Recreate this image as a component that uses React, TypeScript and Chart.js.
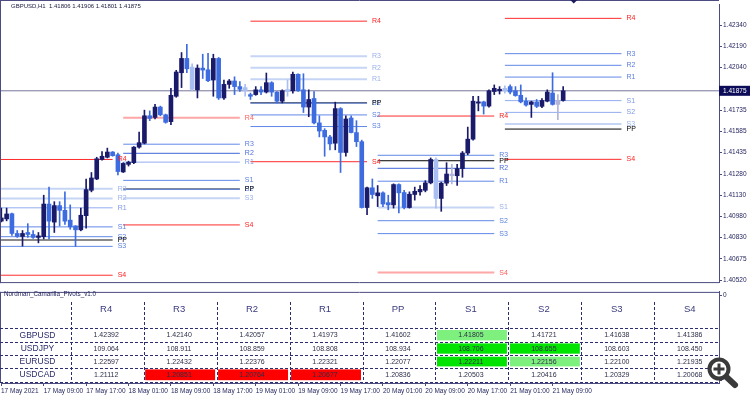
import React, { useEffect, useRef } from 'react';
import { Chart, registerables } from 'chart.js';
Chart.register(...registerables);

const symbolName = 'GBPUSD';
const timeframe = 'H1';

const opens = [
  1.40945, 1.40961, 1.40998, 1.40857, 1.40836, 1.40864, 1.40850, 1.40829, 1.40834, 1.41067,
  1.40938, 1.41056, 1.41022, 1.40952, 1.40911, 1.40883, 1.40984, 1.41165, 1.41246, 1.41385,
  1.41401, 1.41438, 1.41419, 1.41296, 1.41350, 1.41362, 1.41473, 1.41501, 1.41697, 1.41685,
  1.41759, 1.41704, 1.41655, 1.41836, 1.42004, 1.42106, 1.42044, 1.41882, 1.42037, 1.42025,
  1.41952, 1.42106, 1.41824, 1.41921, 1.41945, 1.41905, 1.41898, 1.41848, 1.41848, 1.41882,
  1.41866, 1.41933, 1.41866, 1.41801, 1.41884, 1.41875, 1.41993, 1.41882, 1.41759, 1.41820,
  1.41646, 1.41593, 1.41546, 1.41501, 1.41748, 1.41435, 1.41681, 1.41577, 1.41512, 1.41042,
  1.41183, 1.41126, 1.41147, 1.41077, 1.41061, 1.41206, 1.41149, 1.41042, 1.41135, 1.41154,
  1.41165, 1.41218, 1.41385, 1.41107, 1.41216, 1.41269, 1.41269, 1.41320, 1.41431, 1.41530,
  1.41787, 1.41796, 1.41766, 1.41870, 1.41875, 1.41893, 1.41905, 1.41875, 1.41843, 1.41801,
  1.41778, 1.41796, 1.41764, 1.41801, 1.41859, 1.41778, 1.41806,
];
const highs = [
  1.41038, 1.41038, 1.41003, 1.40878, 1.40878, 1.40927, 1.40878, 1.40864, 1.41130, 1.41188,
  1.41084, 1.41084, 1.41154, 1.41061, 1.40913, 1.41038, 1.41246, 1.41292, 1.41401, 1.41442,
  1.41466, 1.41442, 1.41431, 1.41362, 1.41373, 1.41477, 1.41581, 1.41737, 1.41732, 1.41778,
  1.41766, 1.41709, 1.41893, 1.42021, 1.42148, 1.42206, 1.42067, 1.42060, 1.42136, 1.42143,
  1.42136, 1.42113, 1.41952, 1.41956, 1.41975, 1.41940, 1.41921, 1.41859, 1.41905, 1.41905,
  1.42002, 1.41940, 1.41870, 1.41882, 1.41952, 1.42009, 1.41997, 1.41997, 1.41882, 1.41870,
  1.41697, 1.41605, 1.41558, 1.41794, 1.41755, 1.41697, 1.41697, 1.41662, 1.41523, 1.41188,
  1.41246, 1.41199, 1.41154, 1.41130, 1.41211, 1.41211, 1.41165, 1.41154, 1.41188, 1.41199,
  1.41234, 1.41396, 1.41396, 1.41223, 1.41362, 1.41350, 1.41350, 1.41442, 1.41616, 1.41836,
  1.41836, 1.41801, 1.41882, 1.41917, 1.41905, 1.41910, 1.41917, 1.41905, 1.41917, 1.41824,
  1.41801, 1.41813, 1.41820, 1.41882, 1.42004, 1.41848, 1.41906,
];
const lows = [
  1.40940, 1.40947, 1.40843, 1.40829, 1.40767, 1.40829, 1.40822, 1.40790, 1.40818, 1.40818,
  1.40864, 1.40911, 1.40922, 1.40887, 1.40765, 1.40876, 1.40894, 1.41154, 1.41241, 1.41380,
  1.41396, 1.41408, 1.41274, 1.41292, 1.41338, 1.41355, 1.41466, 1.41496, 1.41662, 1.41674,
  1.41697, 1.41644, 1.41634, 1.41829, 1.41898, 1.42004, 1.41875, 1.41824, 1.41963, 1.41940,
  1.41836, 1.41813, 1.41813, 1.41893, 1.41848, 1.41870, 1.41836, 1.41813, 1.41843, 1.41848,
  1.41859, 1.41836, 1.41789, 1.41789, 1.41836, 1.41859, 1.41870, 1.41720, 1.41690, 1.41639,
  1.41546, 1.41408, 1.41454, 1.41454, 1.41292, 1.41408, 1.41574, 1.41477, 1.41038, 1.40991,
  1.41107, 1.41049, 1.41049, 1.41026, 1.41038, 1.41003, 1.41033, 1.41038, 1.41095, 1.41130,
  1.41154, 1.41211, 1.41038, 1.41015, 1.41199, 1.41211, 1.41199, 1.41258, 1.41419, 1.41523,
  1.41732, 1.41709, 1.41759, 1.41848, 1.41852, 1.41859, 1.41852, 1.41836, 1.41789, 1.41766,
  1.41685, 1.41755, 1.41755, 1.41796, 1.41773, 1.41669, 1.41801,
];
const closes = [
  1.40968, 1.40996, 1.40857, 1.40836, 1.40857, 1.40850, 1.40829, 1.40840, 1.41067, 1.40945,
  1.41056, 1.41022, 1.40945, 1.40904, 1.40883, 1.40987, 1.41170, 1.41253, 1.41390, 1.41408,
  1.41438, 1.41412, 1.41299, 1.41357, 1.41366, 1.41473, 1.41505, 1.41697, 1.41678, 1.41759,
  1.41704, 1.41650, 1.41843, 1.42009, 1.42106, 1.42032, 1.41886, 1.42037, 1.42023, 1.41947,
  1.42106, 1.41824, 1.41921, 1.41945, 1.41905, 1.41886, 1.41875, 1.41836, 1.41882, 1.41866,
  1.41933, 1.41866, 1.41801, 1.41875, 1.41870, 1.41993, 1.41875, 1.41759, 1.41813, 1.41646,
  1.41588, 1.41546, 1.41496, 1.41748, 1.41435, 1.41674, 1.41577, 1.41512, 1.41042, 1.41183,
  1.41135, 1.41147, 1.41067, 1.41061, 1.41206, 1.41147, 1.41042, 1.41137, 1.41158, 1.41172,
  1.41218, 1.41385, 1.41107, 1.41216, 1.41281, 1.41281, 1.41320, 1.41431, 1.41530, 1.41801,
  1.41796, 1.41766, 1.41875, 1.41893, 1.41886, 1.41875, 1.41866, 1.41841, 1.41796, 1.41773,
  1.41796, 1.41764, 1.41806, 1.41866, 1.41778, 1.41806, 1.41875,
];
const fadedBars = [36, 46, 54, 82, 85, 95, 105];

const levelNames = ['R4', 'R3', 'R2', 'R1', 'PP', 'S1', 'S2', 'S3', 'S4'];
const pivotDayStarts = [-1, 23, 47, 71, 95];
const pivotSpan = 22;
const pivotsDay1 = [1.41385, 1.41176, 1.41107, 1.41040, 1.40811, 1.40904, 1.40834, 1.40765, 1.40559];
const pivotsDay2 = [1.41683, 1.41494, 1.41429, 1.41366, 1.41174, 1.41236, 1.41172, 1.41108, 1.40918];
const pivotsDay3 = [1.42372, 1.42122, 1.42040, 1.41957, 1.41789, 1.41787, 1.41703, 1.41620, 1.41369];
const pivotsDay4 = [1.41695, 1.41415, 1.41322, 1.41230, 1.41376, 1.41042, 1.40948, 1.40856, 1.40578];
const pivotsDay5 = [1.42392, 1.42140, 1.42057, 1.41973, 1.41602, 1.41805, 1.41721, 1.41638, 1.41386];
const pivotLevels = [pivotsDay1, pivotsDay2, pivotsDay3, pivotsDay4, pivotsDay5];

const stylesDay1 = ['red', 'pale', 'pale', 'lblue', 'gray', 'blue', 'blue', 'blue', 'red'];
const stylesDay2 = ['pink', 'blue', 'dblue', 'lblue', 'black', 'blue', 'blue', 'pale', 'red'];
const stylesDay3 = ['red', 'pale', 'pale', 'pale', 'black', 'blue', 'blue', 'blue', 'red'];
const stylesDay4 = ['red', 'blue', 'dblue', 'blue', 'black', 'pale', 'blue', 'blue', 'pink'];
const stylesDay5 = ['red', 'blue', 'blue', 'blue', 'black', 'lblue', 'lblue', 'pale', 'red'];
const pivotStyles = [stylesDay1, stylesDay2, stylesDay3, stylesDay4, stylesDay5];

const currentPrice = 1.41875;
const shiftMarkerBar = 108;
const priceTicks = [1.4234, 1.4219, 1.4204, 1.41735, 1.41585, 1.41435, 1.4128, 1.4113, 1.4098, 1.4083, 1.40675, 1.4052];
const timeTickBars = [-0.06, 8, 16, 24, 32, 40, 48, 56, 64, 72, 80, 88, 96, 104];
const timeTickLabels = [
  '17 May 2021', '17 May 09:00', '17 May 17:00', '18 May 01:00', '18 May 09:00', '18 May 17:00',
  '19 May 01:00', '19 May 09:00', '19 May 17:00', '20 May 01:00', '20 May 09:00', '20 May 17:00',
  '21 May 01:00', '21 May 09:00',
];

const indicatorName = 'Nordman_Camarilla_Pivots_v1.0';
const tableSymbols = ['GBPUSD', 'USDJPY', 'EURUSD', 'USDCAD'];
const tableDigits = [5, 3, 5, 5];
const rowGBPUSD = [1.42392, 1.42140, 1.42057, 1.41973, 1.41602, 1.41805, 1.41721, 1.41638, 1.41386];
const rowUSDJPY = [109.064, 108.911, 108.859, 108.808, 108.934, 108.706, 108.655, 108.603, 108.450];
const rowEURUSD = [1.22597, 1.22432, 1.22376, 1.22321, 1.22077, 1.22211, 1.22156, 1.22100, 1.21935];
const rowUSDCAD = [1.21112, 1.20851, 1.20764, 1.20677, 1.20836, 1.20503, 1.20416, 1.20329, 1.20068];
const tableRows = [rowGBPUSD, rowUSDJPY, rowEURUSD, rowUSDCAD];
const hlGBPUSD = ['', '', '', '', '', 'lightgreen', '', '', ''];
const hlUSDJPY = ['', '', '', '', '', 'green', 'green', '', ''];
const hlEURUSD = ['', '', '', '', '', 'green', 'lightgreen', '', ''];
const hlUSDCAD = ['', 'red', 'red', 'red', '', '', '', '', ''];
const tableHighlights = [hlGBPUSD, hlUSDJPY, hlEURUSD, hlUSDCAD];

const FONT = '"Liberation Sans", Arial, sans-serif';
const lineStyles: Record<string, { color: string; width: number; text: string }> = {
  red: { color: '#ff2b2b', width: 1, text: '#ff2020' },
  pink: { color: '#ffa6a6', width: 2, text: '#ff5a5a' },
  blue: { color: '#6088e8', width: 1, text: '#5b7fe0' },
  dblue: { color: '#3f66d8', width: 1, text: '#4a6edc' },
  lblue: { color: '#92acf0', width: 1, text: '#7e98e6' },
  pale: { color: '#c6d5f6', width: 2, text: '#9cb1ea' },
  black: { color: '#000000', width: 1, text: '#000000' },
  gray: { color: '#8a8a8a', width: 2, text: '#000000' },
};
const highlightColors: Record<string, string> = { red: '#ff0000', green: '#00e400', lightgreen: '#7ef07e' };
const AXIS = '#4c4c80';
const TEXT = '#262660';
const X_MIN = -0.06;
const X_MAX = 135.4;
const drawOrder = [0, 1, 2, 3, 5, 6, 7, 8, 4];

function candleColor(i: number) {
  const up = closes[i] >= opens[i];
  if (fadedBars.includes(i)) return up ? '#b3b3da' : '#a9bff2';
  return up ? '#1a1a6b' : '#3d6ce0';
}

const mainOverlay = {
  id: 'mainOverlay',
  afterDatasetsDraw(chart: any) {
    const { ctx, scales } = chart;
    const x = scales.x, y = scales.y;
    ctx.save();
    ctx.beginPath();
    ctx.font = `7px ${FONT}`;
    ctx.textBaseline = 'middle';
    ctx.textAlign = 'left';
    pivotLevels.forEach((levels, d) => {
      const px = x.getPixelForValue(pivotDayStarts[d] + pivotSpan) + 5;
      drawOrder.forEach((k) => {
        ctx.fillStyle = lineStyles[pivotStyles[d][k]].text;
        ctx.fillText(levelNames[k], px, y.getPixelForValue(levels[k]));
      });
    });
    ctx.restore();
  },
  afterDraw(chart: any) {
    const { ctx, chartArea, scales } = chart;
    const x = scales.x, y = scales.y;
    ctx.save();
    ctx.strokeStyle = AXIS;
    ctx.lineWidth = 1;
    ctx.beginPath();
    ctx.moveTo(0.5, 0);
    ctx.lineTo(0.5, chartArea.bottom + 1);
    ctx.moveTo(0, 0.5);
    ctx.lineTo(chartArea.right, 0.5);
    ctx.moveTo(0, chartArea.bottom + 0.5);
    ctx.lineTo(chartArea.right, chartArea.bottom + 0.5);
    ctx.stroke();
    const n = opens.length - 1;
    ctx.font = `6px ${FONT}`;
    ctx.fillStyle = '#1a1a40';
    ctx.textBaseline = 'middle';
    ctx.textAlign = 'left';
    ctx.fillText(
      `${symbolName},${timeframe}  ${opens[n].toFixed(5)} ${highs[n].toFixed(5)} ${lows[n].toFixed(5)} ${closes[n].toFixed(5)}`,
      11, 6
    );
    const py = y.getPixelForValue(currentPrice);
    ctx.fillStyle = '#0c0c58';
    ctx.fillRect(chartArea.right, py - 5, 31, 10);
    ctx.fillStyle = '#ffffff';
    ctx.font = `6.5px ${FONT}`;
    ctx.fillText(currentPrice.toFixed(5), chartArea.right + 4, py + 0.5);
    const mx = x.getPixelForValue(shiftMarkerBar);
    ctx.fillStyle = '#1b1b5e';
    ctx.beginPath();
    ctx.moveTo(mx - 3.5, 0);
    ctx.lineTo(mx + 3.5, 0);
    ctx.lineTo(mx, 3.5);
    ctx.closePath();
    ctx.fill();
    ctx.restore();
  },
};

const subOverlay = {
  id: 'subOverlay',
  afterDraw(chart: any) {
    const { ctx, chartArea } = chart;
    ctx.save();
    ctx.strokeStyle = AXIS;
    ctx.lineWidth = 1;
    ctx.beginPath();
    ctx.moveTo(0.5, chartArea.top);
    ctx.lineTo(0.5, chartArea.bottom);
    ctx.moveTo(0, chartArea.top + 0.5);
    ctx.lineTo(chartArea.right, chartArea.top + 0.5);
    ctx.stroke();

    ctx.font = `6.3px ${FONT}`;
    ctx.fillStyle = TEXT;
    ctx.textAlign = 'left';
    ctx.textBaseline = 'middle';
    ctx.fillText(indicatorName, 4, 7.5);

    const colStart = 70.7;
    const colW = 72.95;
    const rowLines = [41.3, 54.7, 68, 80.7, 94.5];
    const right = chartArea.right - 1;

    tableHighlights.forEach((row, r) => {
      row.forEach((h, c) => {
        if (!h) return;
        ctx.fillStyle = highlightColors[h];
        const x0 = colStart + c * colW + 1.5;
        ctx.fillRect(x0, rowLines[r] + 1.7, colW - 3, rowLines[r + 1] - rowLines[r] - 3);
      });
    });

    ctx.strokeStyle = '#2c2c70';
    ctx.setLineDash([3, 2]);
    ctx.beginPath();
    rowLines.forEach((ly) => {
      ctx.moveTo(0, Math.round(ly) + 0.5);
      ctx.lineTo(right, Math.round(ly) + 0.5);
    });
    for (let c = 0; c < 9; c++) {
      const lx = Math.round(colStart + c * colW) + 0.5;
      ctx.moveTo(lx, 15);
      ctx.lineTo(lx, 95);
    }
    ctx.stroke();
    ctx.setLineDash([]);

    ctx.textAlign = 'center';
    ctx.fillStyle = '#3a3a7e';
    ctx.font = `9.5px ${FONT}`;
    levelNames.forEach((name, c) => {
      ctx.fillText(name, colStart + c * colW + colW / 2 - 1, 22.5);
    });
    tableSymbols.forEach((sym, r) => {
      const cy = (rowLines[r] + rowLines[r + 1]) / 2 + 0.3;
      ctx.font = `8.5px ${FONT}`;
      ctx.fillStyle = '#2b2b6b';
      ctx.fillText(sym, 37.5, cy);
      ctx.font = `7px ${FONT}`;
      ctx.fillStyle = '#2e2e48';
      tableRows[r].forEach((v, c) => {
        ctx.fillText(v.toFixed(tableDigits[r]), colStart + c * colW + colW / 2 - 1, cy);
      });
    });

    ctx.strokeStyle = '#3a3a3a';
    ctx.fillStyle = '#ffffff';
    ctx.lineWidth = 4;
    ctx.beginPath();
    ctx.arc(719, 82, 9.5, 0, Math.PI * 2);
    ctx.fill();
    ctx.stroke();
    ctx.lineWidth = 6;
    ctx.lineCap = 'round';
    ctx.beginPath();
    ctx.moveTo(727, 90.5);
    ctx.lineTo(735, 98);
    ctx.stroke();
    ctx.lineWidth = 3;
    ctx.lineCap = 'butt';
    ctx.beginPath();
    ctx.moveTo(713.5, 82);
    ctx.lineTo(724.5, 82);
    ctx.moveTo(719, 76.5);
    ctx.lineTo(719, 87.5);
    ctx.stroke();
    ctx.restore();
  },
};

export default function App() {
  const refA = useRef<HTMLCanvasElement>(null);
  const refB = useRef<HTMLCanvasElement>(null);

  useEffect(() => {
    Chart.defaults.font.family = FONT;
    const idx = opens.map((_, i) => i);
    const colors = idx.map(candleColor);

    const pivotDatasets: any[] = [];
    pivotLevels.forEach((levels, d) => {
      const start = pivotDayStarts[d];
      const end = start + pivotSpan;
      drawOrder.forEach((k) => {
        const st = lineStyles[pivotStyles[d][k]];
        pivotDatasets.push({
          type: 'line',
          data: [{ x: start, y: levels[k] }, { x: end, y: levels[k] }],
          borderColor: st.color,
          backgroundColor: st.color,
          borderWidth: st.width,
          pointRadius: 0,
          fill: false,
          order: 3,
        });
      });
    });

    const chartA = new Chart(refA.current as HTMLCanvasElement, {
      type: 'bar',
      data: {
        datasets: [
          ...pivotDatasets,
          {
            type: 'line',
            data: [{ x: X_MIN, y: currentPrice }, { x: X_MAX, y: currentPrice }],
            borderColor: '#77779c',
            borderWidth: 1,
            pointRadius: 0,
            fill: false,
            order: 2,
          },
          {
            type: 'bar',
            data: idx.map((i) => ({ x: i, y: [lows[i], highs[i]] })),
            backgroundColor: colors,
            barThickness: 1,
            grouped: false,
            borderWidth: 0,
            order: 1,
          },
          {
            type: 'bar',
            data: idx.map((i) => ({ x: i, y: [opens[i], closes[i]] })),
            backgroundColor: colors,
            barThickness: 4,
            minBarLength: 1,
            grouped: false,
            borderWidth: 0,
            order: 0,
          },
        ] as any,
      },
      options: {
        responsive: false,
        animation: false,
        events: [],
        layout: { padding: { left: 1, top: 1, right: 0, bottom: 1 }, autoPadding: false } as any,
        plugins: { legend: { display: false }, tooltip: { enabled: false } },
        scales: {
          x: { type: 'linear', min: X_MIN, max: X_MAX, display: false, offset: false },
          y: {
            type: 'linear',
            position: 'right',
            min: 1.4051,
            max: 1.42488,
            beginAtZero: false,
            afterBuildTicks: (s: any) => {
              s.ticks = priceTicks.map((v) => ({ value: v }));
            },
            afterFit: (s: any) => {
              s.width = 31;
            },
            ticks: {
              autoSkip: false,
              padding: 1,
              color: TEXT,
              font: { size: 6.5, family: FONT },
              callback: (v: any) => Number(v).toFixed(5),
            },
            grid: { drawOnChartArea: false, tickLength: 3, color: AXIS },
            border: { color: AXIS },
          },
        },
      } as any,
      plugins: [mainOverlay],
    });

    const chartB = new Chart(refB.current as HTMLCanvasElement, {
      type: 'line',
      data: { datasets: [] },
      options: {
        responsive: false,
        animation: false,
        events: [],
        layout: { padding: { left: 1, top: 1, right: 0, bottom: 0 }, autoPadding: false } as any,
        plugins: { legend: { display: false }, tooltip: { enabled: false } },
        scales: {
          x: {
            type: 'linear',
            min: X_MIN,
            max: X_MAX,
            afterBuildTicks: (s: any) => {
              s.ticks = timeTickBars.map((v) => ({ value: v }));
            },
            afterFit: (s: any) => {
              s.height = 15;
            },
            ticks: {
              autoSkip: false,
              maxRotation: 0,
              align: 'start',
              padding: 1,
              color: TEXT,
              font: { size: 6.5, family: FONT },
              callback: (_v: any, i: number) => timeTickLabels[i],
            },
            grid: { drawOnChartArea: false, tickLength: 3, color: AXIS },
            border: { color: AXIS },
          },
          y: {
            type: 'linear',
            position: 'right',
            min: 0,
            max: 100,
            afterBuildTicks: (s: any) => {
              s.ticks = [{ value: 96 }, { value: 3 }];
            },
            afterFit: (s: any) => {
              s.width = 31;
            },
            ticks: {
              autoSkip: false,
              padding: 1,
              color: TEXT,
              font: { size: 6.5, family: FONT },
              callback: (v: any) => (v === 96 ? '0' : ''),
            },
            grid: { drawOnChartArea: false, tickLength: 3, color: AXIS },
            border: { color: AXIS },
          },
        },
      } as any,
      plugins: [subOverlay],
    });

    return () => {
      chartA.destroy();
      chartB.destroy();
    };
  }, []);

  return (
    <div style={{ position: 'absolute', left: 0, top: 0, width: 750, height: 398, background: '#ffffff', overflow: 'hidden' }}>
      <canvas ref={refA} width={750} height={287} style={{ position: 'absolute', left: 0, top: 0, width: 750, height: 287 }} />
      <canvas ref={refB} width={750} height={111} style={{ position: 'absolute', left: 0, top: 287, width: 750, height: 111 }} />
    </div>
  );
}
